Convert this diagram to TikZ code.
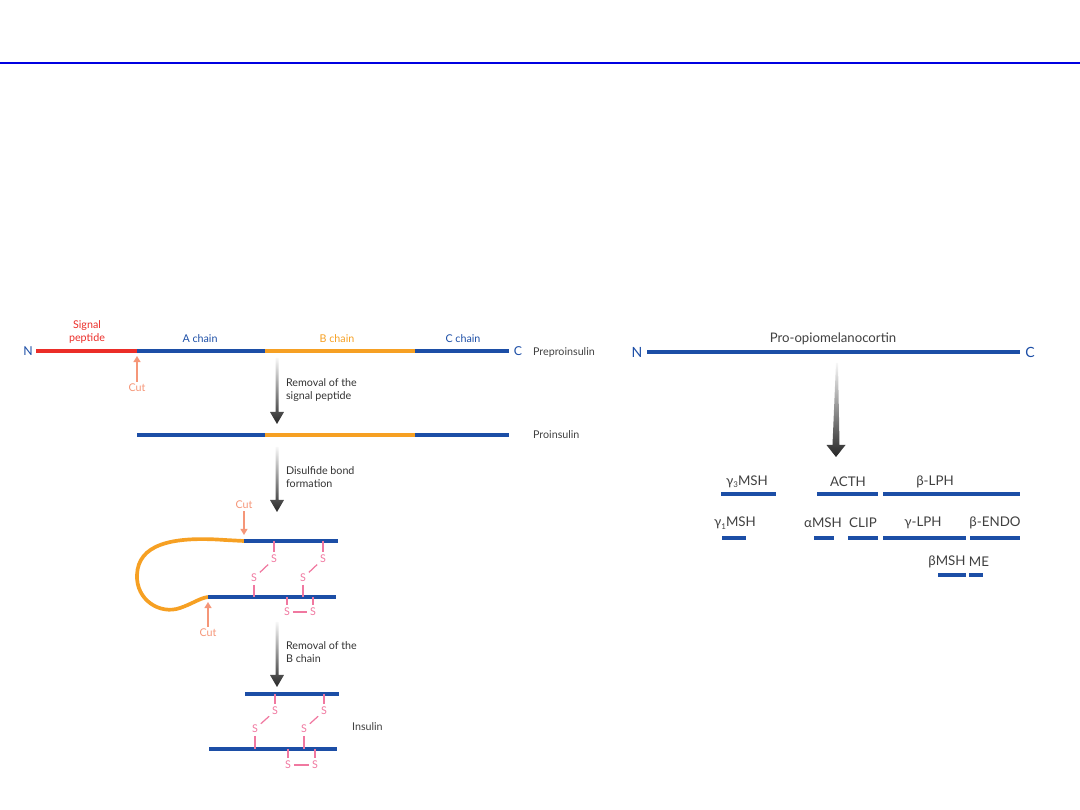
\documentclass[tikz,border=0pt]{standalone}
\usepackage{fontspec}
\setmainfont{Lato}
\usetikzlibrary{arrows.meta}
\definecolor{chainblue}{RGB}{28,78,166}
\definecolor{sigred}{RGB}{235,45,40}
\definecolor{borange}{RGB}{246,160,35}
\definecolor{cutsalmon}{RGB}{245,150,120}
\definecolor{bondpink}{RGB}{240,120,160}
\definecolor{rulecol}{RGB}{0,0,225}
\newcommand{\lowsub}[1]{\raisebox{-0.35ex}{\fontsize{4.5}{5}\selectfont #1}}
\begin{document}
\begin{tikzpicture}[x=0.02cm,y=-0.02cm,
 chain/.style={line width=2.1pt},
 bluechain/.style={chain,draw=chainblue},
 redchain/.style={chain,draw=sigred},
 orangechain/.style={chain,draw=borange},
 fragline/.style={line width=2.4pt,draw=chainblue},
 small/.style={font=\fontsize{6.1}{7.4}\selectfont,inner sep=1pt},
 chainlabel/.style={small,text=chainblue},
 namelabel/.style={small,text=black!75,anchor=west},
 steplabel/.style={small,text=black!80,anchor=west,align=left},
 cutlabel/.style={small,text=cutsalmon},
 cutarrow/.style={draw=cutsalmon,line width=1pt,-{Triangle[width=4pt,length=3.5pt]}},
 sbond/.style={small,text=bondpink,inner sep=1.5pt},
 bond/.style={draw=bondpink,line width=0.7pt},
 procarrow/.style={top color=black!3,bottom color=black!85,draw=none},
 fraglabel/.style={font=\fontsize{7.6}{9}\selectfont,text=black!75,inner sep=1pt},
 endlabel/.style={font=\fontsize{8}{9}\selectfont,text=chainblue,inner sep=1pt}]
 \useasboundingbox (0,0) rectangle (1080,810);
 % top rule
 \draw[rulecol,line width=1.2pt] (0,63) -- (1080,63);

 % preproinsulin
 \coordinate (P0) at (36,351);
 \coordinate (P1) at (137,351);
 \coordinate (P2) at (265,351);
 \coordinate (P3) at (415,351);
 \coordinate (P4) at (509,351);
 \draw[redchain] (P0) -- (P1);
 \draw[bluechain] (P1) -- (P2);
 \draw[orangechain] (P2) -- (P3);
 \draw[bluechain] (P3) -- (P4);
 \node[chainlabel,font=\fontsize{7}{8}\selectfont] (nterm) at (28,351) {N};
 \node[chainlabel,font=\fontsize{7}{8}\selectfont] (cterm) at (518,351) {C};
 \node[small,text=sigred,align=center] (sig) at (87,332) {Signal\\peptide};
 \node[chainlabel] (achain) at (200,339) {A chain};
 \node[chainlabel,text=borange] (bchain) at (337,339) {B chain};
 \node[chainlabel] (cchain) at (463,339) {C chain};
 \node[namelabel] (prepro) at (531,352) {Preproinsulin};
 \node[cutlabel] (cut1) at (137,388) {Cut};
 \coordinate (cut1tip) at (137,356);
 \draw[cutarrow] (cut1) -- (cut1tip);

 % step 1
 \shade[procarrow] (275.5,358) -- ++(3,0) -- ++(0,54) -- ++(5.5,0)
  -- ++(-7,12) -- ++(-7,-12) -- ++(5.5,0) -- cycle;
 \node[steplabel] (step1) at (284,390) {Removal of the\\signal peptide};

 % proinsulin
 \coordinate (Q1) at (137,435);
 \coordinate (Q2) at (265,435);
 \coordinate (Q3) at (415,435);
 \coordinate (Q4) at (509,435);
 \draw[bluechain] (Q1) -- (Q2);
 \draw[orangechain] (Q2) -- (Q3);
 \draw[bluechain] (Q3) -- (Q4);
 \node[namelabel] (pro) at (531,435) {Proinsulin};

 % step 2
 \shade[procarrow] (275.5,447) -- ++(3,0) -- ++(0,53) -- ++(5.5,0)
  -- ++(-7,12) -- ++(-7,-12) -- ++(5.5,0) -- cycle;
 \node[steplabel] (step2) at (284,477) {Disulfide bond\\formation};

 % folded proinsulin
 \draw[orangechain] (244,541) -- (225,540) .. controls (170,536) and (138,545) .. (137,575)
  .. controls (136,600) and (160,615) .. (180,608)
  .. controls (192,604) and (200,598) .. (208,597);
 \draw[bluechain] (244,541) -- (338,541);
 \draw[bluechain] (208,597) -- (336,597);
 \node[sbond] (fs1) at (274,559) {S};
 \node[sbond] (fs2) at (323,559) {S};
 \node[sbond] (fs3) at (254,578) {S};
 \node[sbond] (fs4) at (303,578) {S};
 \node[sbond] (fs5) at (287,612) {S};
 \node[sbond] (fs6) at (313,612) {S};
 \draw[bond] (274,541) -- (fs1);
 \draw[bond] (323,541) -- (fs2);
 \draw[bond] (fs1) -- (fs3);
 \draw[bond] (fs2) -- (fs4);
 \draw[bond] (fs3) -- (254,597);
 \draw[bond] (fs4) -- (303,597);
 \draw[bond] (287,597) -- (fs5);
 \draw[bond] (313,597) -- (fs6);
 \draw[bond] (fs5) -- (fs6);
 \node[cutlabel] (cut2) at (244,505) {Cut};
 \coordinate (cut2tip) at (244,535);
 \draw[cutarrow] (cut2) -- (cut2tip);
 \node[cutlabel] (cut3) at (208,633) {Cut};
 \coordinate (cut3tip) at (208,602);
 \draw[cutarrow] (cut3) -- (cut3tip);

 % step 3
 \shade[procarrow] (275.5,622) -- ++(3,0) -- ++(0,53) -- ++(5.5,0)
  -- ++(-7,12) -- ++(-7,-12) -- ++(5.5,0) -- cycle;
 \node[steplabel] (step3) at (284,652) {Removal of the\\B chain};

 % insulin
 \draw[bluechain] (245,694) -- (339,694);
 \draw[bluechain] (209,749) -- (337,749);
 \node[sbond] (is1) at (275,711) {S};
 \node[sbond] (is2) at (324,711) {S};
 \node[sbond] (is3) at (255,729) {S};
 \node[sbond] (is4) at (304,729) {S};
 \node[sbond] (is5) at (288,765) {S};
 \node[sbond] (is6) at (315,765) {S};
 \draw[bond] (275,694) -- (is1);
 \draw[bond] (324,694) -- (is2);
 \draw[bond] (is1) -- (is3);
 \draw[bond] (is2) -- (is4);
 \draw[bond] (is3) -- (255,749);
 \draw[bond] (is4) -- (304,749);
 \draw[bond] (288,749) -- (is5);
 \draw[bond] (315,749) -- (is6);
 \draw[bond] (is5) -- (is6);
 \node[namelabel] (ins) at (350,727) {Insulin};

 % pro-opiomelanocortin
 \draw[bluechain] (647,352) -- (1020,352);
 \node[endlabel] (pn) at (637,352) {N};
 \node[endlabel] (pc) at (1030,352) {C};
 \node[fraglabel,font=\fontsize{7.5}{9}\selectfont] (pomc) at (833,339) {Pro-opiomelanocortin};
 \shade[procarrow] (836,363) -- ++(2,0) -- ++(1.5,82) -- ++(6,0)
  -- ++(-9.5,12) -- ++(-9.5,-12) -- ++(6,0) -- cycle;

 % fragments
 \node[fraglabel] (g3msh) at (747,482) {γ\lowsub{3}MSH};
 \draw[fragline] (721,494) -- (776,494);
 \node[fraglabel] (acth) at (848,482) {ACTH};
 \draw[fragline] (817,494) -- (878,494);
 \node[fraglabel] (blph) at (935,482) {β-LPH};
 \draw[fragline] (883,494) -- (1020,494);
 \node[fraglabel] (g1msh) at (735,523) {γ\lowsub{1}MSH};
 \draw[fragline] (722,538) -- (746,538);
 \node[fraglabel] (amsh) at (823,523) {αMSH};
 \draw[fragline] (814,538) -- (834,538);
 \node[fraglabel] (clip) at (863,523) {CLIP};
 \draw[fragline] (848,538) -- (878,538);
 \node[fraglabel] (glph) at (923,523) {γ-LPH};
 \draw[fragline] (883,538) -- (966,538);
 \node[fraglabel] (bendo) at (995,523) {β-ENDO};
 \draw[fragline] (970,538) -- (1020,538);
 \node[fraglabel] (bmsh) at (947,562) {βMSH};
 \draw[fragline] (938,575) -- (966,575);
 \node[fraglabel] (me) at (979,562) {ME};
 \draw[fragline] (969,575) -- (983,575);
\end{tikzpicture}
\end{document}
